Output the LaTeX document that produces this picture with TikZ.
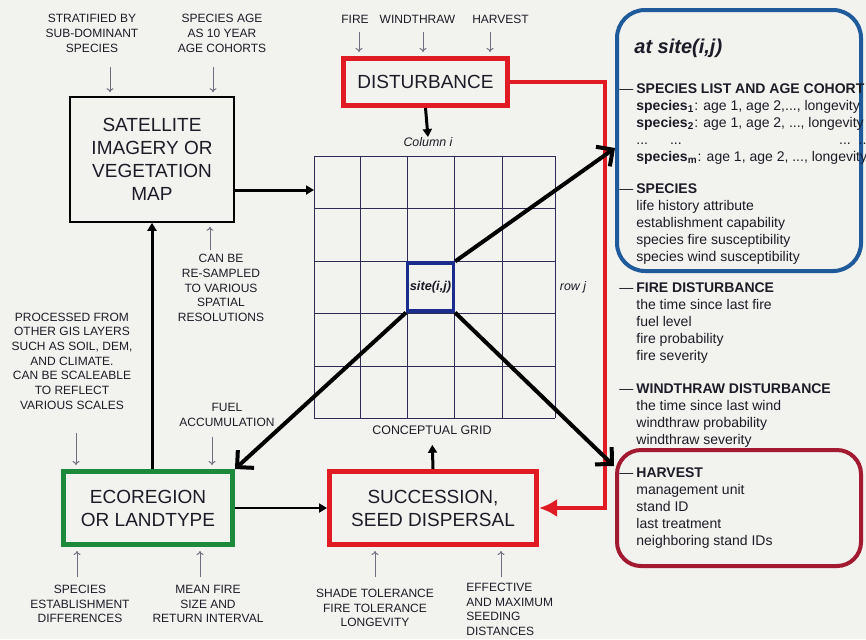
\documentclass[tikz,border=0pt]{standalone}
\usepackage{fontspec}
\setmainfont{Liberation Sans}
\usepackage{xcolor}
\usetikzlibrary{arrows.meta}
\usetikzlibrary{positioning}

\definecolor{paper}{HTML}{F2F2EE}
\definecolor{ink}{HTML}{1C1C28}
\definecolor{distred}{HTML}{E01B24}
\definecolor{ecogreen}{HTML}{1D8A3B}
\definecolor{panelblue}{HTML}{1F5B9A}
\definecolor{siteblue}{HTML}{1A2C8C}
\definecolor{harvred}{HTML}{A3192F}
\definecolor{gridline}{HTML}{2B2B55}
\definecolor{feedgray}{HTML}{6E6E80}

\newcommand{\secthead}[1]{\llap{—\kern1.5pt}\textbf{#1}}
\newcommand{\spname}[1]{\textbf{species}\textsubscript{\textbf{#1}}}

\tikzset{
  box/.style={draw,line width=2.5pt,align=center,inner sep=0pt,
    font=\fontsize{9.5}{11.5}\selectfont,text=ink},
  note/.style={align=center,inner sep=0pt,font=\fontsize{6}{7.35}\selectfont,text=ink},
  cellnote/.style={inner sep=0pt,font=\fontsize{6.2}{7}\selectfont\itshape,text=ink},
  attr/.style={anchor=north west,align=left,inner sep=0pt,
    font=\fontsize{7}{8.5}\selectfont,text=ink},
  feed/.style={draw=feedgray,line width=0.5pt,-{To[length=2pt,width=3.5pt]},shorten >=2pt},
  bigarrow/.style={line width=2pt,-{Straight Barb[length=6pt,width=12pt]}},
  linkarrow/.style={line width=1.5pt,-{Triangle[length=4pt,width=4.5pt]}},
  redline/.style={draw=distred,line width=2pt,-{Latex[length=9pt,width=9pt]}}
}

\begin{document}
\begin{tikzpicture}[x=0.5pt,y=-0.5pt]
  \fill[paper] (0,0) rectangle (866,639);
  \useasboundingbox (0,0) rectangle (866,639);

  % conceptual grid
  \foreach \gx in {314,360,407,454,502,555}
    \draw[gridline,line width=0.5pt] (\gx,156) -- (\gx,418);
  \foreach \gy in {156,208,261,313,366,418}
    \draw[gridline,line width=0.5pt] (314,\gy) -- (555,\gy);
  \node[draw=siteblue,line width=1.6pt,minimum width=23pt,minimum height=24pt,inner sep=0pt,
    font=\fontsize{6.4}{7}\selectfont\bfseries\itshape,text=ink] (site) at (430.5,287) {site(i,j)};
  \node[cellnote] (coli) at (428,142) {Column i};
  \node[cellnote] (rowj) at (573,287) {row j};
  \node[note,font=\fontsize{6.2}{7}\selectfont] (gridlab) at (432,430) {CONCEPTUAL GRID};
  \coordinate (gridW) at (314,190);

  % main boxes
  \node[box,draw=black,line width=0.8pt,minimum width=82pt,minimum height=62.5pt] (sat) at (152,159.5)
    {SATELLITE\\IMAGERY OR\\VEGETATION\\MAP};
  \node[box,draw=distred,minimum width=82pt,minimum height=23.5pt] (dist) at (425.5,82) {DISTURBANCE};
  \node[box,draw=ecogreen,minimum width=84.5pt,minimum height=36.5pt] (eco) at (148,508)
    {ECOREGION\\OR LANDTYPE};
  \node[box,draw=distred,minimum width=103.5pt,minimum height=36.5pt] (succ) at (433,508)
    {SUCCESSION,\\SEED DISPERSAL};

  % site attributes
  \node[draw=panelblue,line width=2pt,rounded corners=14pt,minimum width=122pt,minimum height=130.5pt]
    (info) at (739,140.5) {};
  \node[draw=harvred,line width=2pt,rounded corners=12pt,minimum width=122pt,minimum height=58pt]
    (harv) at (739,508) {};
  \coordinate (infoin) at (615,148);
  \coordinate (harvin) at (614,466);
  \node[anchor=west,inner sep=0pt,font=\fontsize{10}{12}\selectfont\bfseries\itshape,text=ink]
    (atsite) at (634,48) {at site(i,j)};
  \node[attr] (splist) at (636,83) {\secthead{SPECIES LIST AND AGE COHORT}\\
    \spname{1}: age 1, age 2,..., longevity\\
    \spname{2}: age 1, age 2, ..., longevity\\
    \hbox to 115pt{...\hspace{11pt}...\hfill...\ \ ..}\\
    \spname{m}: age 1, age 2, ..., longevity};
  \node[attr] (spattr) at (636,183) {\secthead{SPECIES}\\
    life history attribute\\ establishment capability\\
    species fire susceptibility\\ species wind susceptibility};
  \node[attr] (fireattr) at (636,282) {\secthead{FIRE DISTURBANCE}\\
    the time since last fire\\ fuel level\\ fire probability\\ fire severity};
  \node[attr] (windattr) at (636,383) {\secthead{WINDTHRAW DISTURBANCE}\\
    the time since last wind\\ windthraw probability\\ windthraw severity};
  \node[attr] (harvattr) at (636,467) {\secthead{HARVEST}\\
    management unit\\ stand ID\\ last treatment\\ neighboring stand IDs};

  % driving notes
  \node[note] (strat) at (92,33.5) {STRATIFIED BY\\SUB-DOMINANT\\SPECIES};
  \node[note] (agecoh) at (222,33.5) {SPECIES AGE\\AS 10 YEAR\\AGE COHORTS};
  \node[note] (fire) at (355,19) {FIRE};
  \node[note] (wind) at (417.5,19) {WINDTHRAW};
  \node[note] (harvest) at (500.5,19) {HARVEST};
  \node[note] (resample) at (221,288) {CAN BE\\RE-SAMPLED\\TO VARIOUS\\SPATIAL\\RESOLUTIONS};
  \node[note] (gis) at (72,361) {PROCESSED FROM\\OTHER GIS LAYERS\\SUCH AS SOIL, DEM,\\AND CLIMATE.\\
    CAN BE SCALEABLE\\TO REFLECT\\VARIOUS SCALES};
  \node[note] (fuel) at (227,415) {FUEL\\ACCUMULATION};
  \node[note] (estab) at (80,604) {SPECIES\\ESTABLISHMENT\\DIFFERENCES};
  \node[note] (meanfire) at (208,604) {MEAN FIRE\\SIZE AND\\RETURN INTERVAL};
  \node[note] (shade) at (375,608) {SHADE TOLERANCE\\FIRE TOLERANCE\\LONGEVITY};
  \node[note,align=left,anchor=west] (seeding) at (466,609.5) {EFFECTIVE\\AND MAXIMUM\\SEEDING\\DISTANCES};

  \coordinate (f1) at (110,67);
  \coordinate (f2) at (213,67);
  \coordinate (f3) at (359,32);
  \coordinate (f4) at (423,32);
  \coordinate (f5) at (490,32);
  \coordinate (f6) at (210,250);
  \coordinate (f7) at (76,433);
  \coordinate (f8) at (212,437);
  \coordinate (f9) at (77,577);
  \coordinate (f10) at (200,577);
  \coordinate (f11) at (375,577);
  \coordinate (f12) at (501,577);
  \foreach \f in {f1,f2} \draw[feed] (\f) -- (\f |- sat.north);
  \foreach \f in {f3,f4,f5} \draw[feed] (\f) -- (\f |- dist.north);
  \draw[feed] (f6) -- (f6 |- sat.south);
  \foreach \f in {f7,f8} \draw[feed] (\f) -- (\f |- eco.north);
  \foreach \f in {f9,f10} \draw[feed] (\f) -- (\f |- eco.south);
  \foreach \f in {f11,f12} \draw[feed] (\f) -- (\f |- succ.south);

  % links
  \coordinate (redx) at (605,0);
  \draw[redline] (dist.east) -| (redx |- succ.east) -- (succ.east);
  \draw[linkarrow] (dist.south) -- (coli.north);
  \draw[linkarrow] (sat.east |- gridW) -- (gridW);
  \draw[linkarrow] (sat.south |- eco.north) -- (sat.south);
  \draw[linkarrow,line width=1.2pt] (eco.east) -- (succ.west);
  \draw[linkarrow,shorten >=5pt] (succ.north) -- (gridlab.south);
  \draw[bigarrow] (site.north east) -- (infoin);
  \draw[bigarrow] (site.south west) -- (eco.north east);
  \draw[bigarrow] (site.south east) -- (harvin);
\end{tikzpicture}
\end{document}
